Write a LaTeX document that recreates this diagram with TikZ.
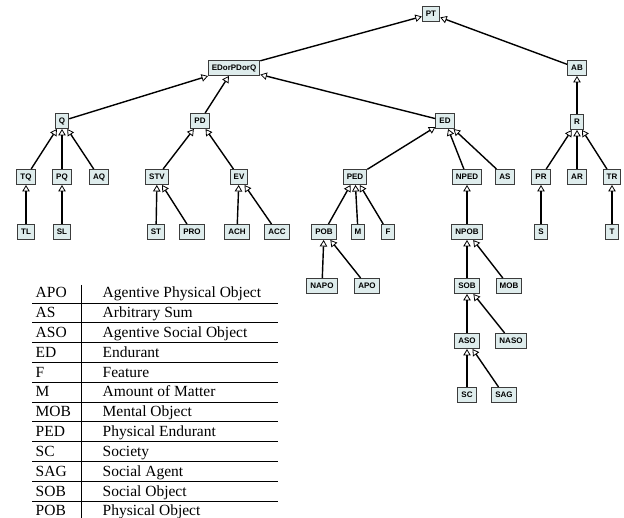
\documentclass[tikz,border=0pt]{standalone}
\usepackage{fontspec}
\setmainfont{Liberation Serif}
\setsansfont{Liberation Sans}
\usepackage{tikz}
\usetikzlibrary{arrows.meta}
\definecolor{boxfill}{RGB}{222,236,236}
\definecolor{boxline}{RGB}{60,60,60}

\begin{document}
\begin{tikzpicture}[x=1pt, y=-1pt, ->, >={Triangle[open, length=6.5pt, width=7.5pt, line width=0.8pt]}, line width=1.4pt]

\tikzstyle{concept}=[
    rectangle,
    draw=boxline,
    fill=boxfill,
    line width=1pt,
    font=\sffamily\bfseries\fontsize{8}{9}\selectfont,
    text height=5.8pt,
    text depth=0pt,
    inner xsep=3.6pt,
    minimum height=15pt
]
\tikzstyle{legend}=[anchor=base west, inner sep=0pt, font=\fontsize{15.5}{18}\selectfont]

\useasboundingbox (0,0) rectangle (624,518);

% top of the tree
\node[concept] (PT) at (431,14) {PT};
\node[concept] (EDorPDorQ) at (234,68) {EDorPDorQ};
\node[concept] (AB) at (577,68) {AB};

\node[concept] (Q) at (62,121) {Q};
\node[concept] (PD) at (200,121) {PD};
\node[concept] (ED) at (445,121) {ED};
\node[concept] (R) at (577,122) {R};

\node[concept] (TQ) at (26,177) {TQ};
\node[concept] (PQ) at (62,177) {PQ};
\node[concept] (AQ) at (99,177) {AQ};
\node[concept] (STV) at (157,177) {STV};
\node[concept] (EV) at (239,177) {EV};
\node[concept] (PED) at (355,177) {PED};
\node[concept] (NPED) at (467,177) {NPED};
\node[concept] (AS) at (505,177) {AS};
\node[concept] (PR) at (541,177) {PR};
\node[concept] (AR) at (577,177) {AR};
\node[concept] (TR) at (612,177) {TR};

\node[concept] (TL) at (26,232) {TL};
\node[concept] (SL) at (62,232) {SL};
\node[concept] (ST) at (156,232) {ST};
\node[concept] (PRO) at (192,232) {PRO};
\node[concept] (ACH) at (237,232) {ACH};
\node[concept] (ACC) at (277,232) {ACC};
\node[concept] (POB) at (324,232) {POB};
\node[concept] (M) at (358,232) {M};
\node[concept] (F) at (388,232) {F};
\node[concept] (NPOB) at (467,232) {NPOB};
\node[concept] (S) at (541,232) {S};
\node[concept] (T) at (612,232) {T};

\node[concept] (NAPO) at (322,286) {NAPO};
\node[concept] (APO) at (367,286) {APO};
\node[concept] (SOB) at (467,286) {SOB};
\node[concept] (MOB) at (509,286) {MOB};

\node[concept] (ASO) at (467,341) {ASO};
\node[concept] (NASO) at (511,341) {NASO};

\node[concept] (SC) at (467,395) {SC};
\node[concept] (SAG) at (504,395) {SAG};

\path
(EDorPDorQ) edge (PT)
(AB) edge (PT)
(Q) edge (EDorPDorQ)
(PD) edge (EDorPDorQ)
(ED) edge (EDorPDorQ)
(R) edge (AB)
(TQ) edge (Q)
(PQ) edge (Q)
(AQ) edge (Q)
(STV) edge (PD)
(EV) edge (PD)
(PED) edge (ED)
(NPED) edge (ED)
(AS) edge (ED)
(PR) edge (R)
(AR) edge (R)
(TR) edge (R)
(TL) edge (TQ)
(SL) edge (PQ)
(ST) edge (STV)
(PRO) edge (STV)
(ACH) edge (EV)
(ACC) edge (EV)
(POB) edge (PED)
(M) edge (PED)
(F) edge (PED)
(NPOB) edge (NPED)
(S) edge (PR)
(T) edge (TR)
(NAPO) edge (POB)
(APO) edge (POB)
(SOB) edge (NPOB)
(MOB) edge (NPOB)
(ASO) edge (SOB)
(NASO) edge (SOB)
(SC) edge (ASO)
(SAG) edge (ASO);

% abbreviation table
\foreach \abbr/\full [count=\i from 0] in {APO/Agentive Physical Object, AS/Arbitrary Sum,
    ASO/Agentive Social Object, ED/Endurant, F/Feature, M/Amount of Matter,
    MOB/Mental Object, PED/Physical Endurant, SC/Society, SAG/Social Agent,
    SOB/Social Object, POB/Physical Object}{
  \node[legend] (key-\abbr) at (35,{298+19.8*\i}) {\abbr};
  \node[legend] (txt-\abbr) at (102,{298+19.8*\i}) {\full};
}
\foreach \i in {0,...,10}
  \draw[-, line width=0.6pt] (32,{303+19.8*\i}) -- (278,{303+19.8*\i});
\draw[-, line width=0.6pt] (81,285) -- (81,518);

\end{tikzpicture}
\end{document}
